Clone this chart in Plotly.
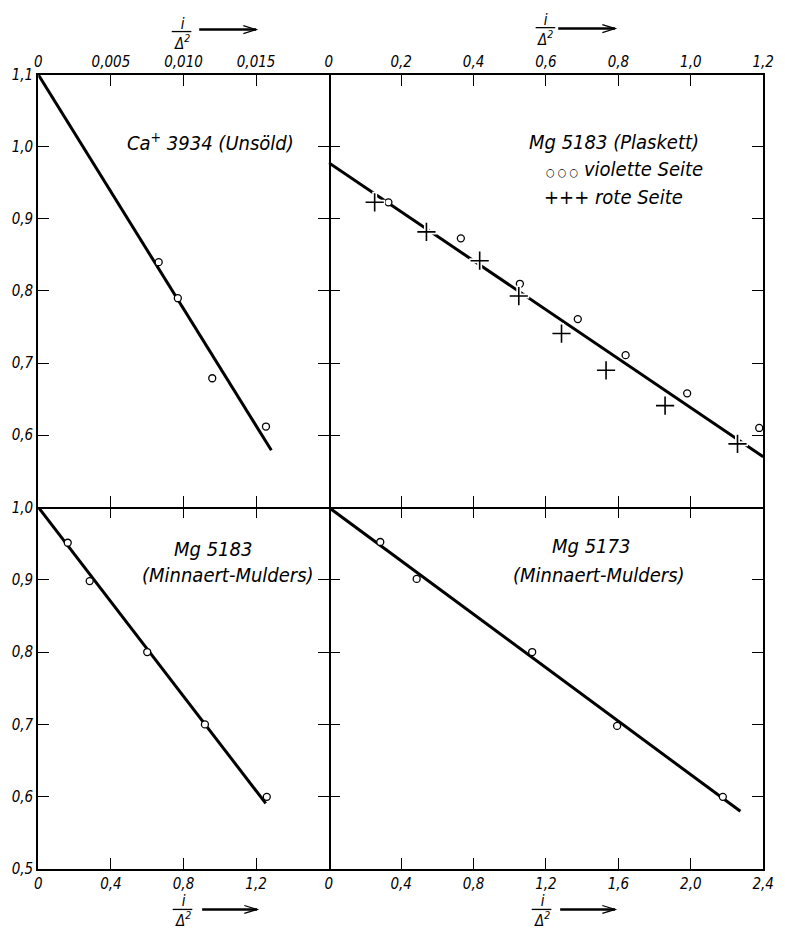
import plotly.graph_objects as go

# ---------------- data ----------------
# Panel A: Ca+ 3934 (Unsöld)
ca_x = [0.00829, 0.00961, 0.01198, 0.01568]
ca_y = [0.840, 0.790, 0.679, 0.612]
ca_fit_x = [0.0, 0.01605]
ca_fit_y = [1.100, 0.579]

# Panel B: Mg 5183 (Plaskett)
pl_violet_x = [0.165, 0.365, 0.528, 0.688, 0.820, 0.990, 1.189]
pl_violet_y = [0.923, 0.873, 0.810, 0.761, 0.711, 0.658, 0.610]
pl_red_x = [0.127, 0.270, 0.417, 0.525, 0.643, 0.766, 0.929, 1.129]
pl_red_y = [0.923, 0.882, 0.842, 0.793, 0.741, 0.690, 0.641, 0.588]
pl_fit_x = [0.0, 1.2]
pl_fit_y = [0.978, 0.570]

# Panel C: Mg 5183 (Minnaert-Mulders)
mm83_x = [0.162, 0.283, 0.600, 0.918, 1.259]
mm83_y = [0.951, 0.898, 0.800, 0.700, 0.600]
mm83_fit_x = [0.0, 1.253]
mm83_fit_y = [1.000, 0.591]

# Panel D: Mg 5173 (Minnaert-Mulders)
mm73_x = [0.285, 0.486, 1.124, 1.593, 2.177]
mm73_y = [0.952, 0.901, 0.800, 0.698, 0.600]
mm73_fit_x = [0.0, 2.274]
mm73_fit_y = [1.000, 0.580]

# ticks
a_xticks = [0, 0.005, 0.010, 0.015]
a_xlabels = ["0", "0,005", "0,010", "0,015"]
b_xticks = [0, 0.2, 0.4, 0.6, 0.8, 1.0, 1.2]
b_xlabels = ["0", "0,2", "0,4", "0,6", "0,8", "1,0", "1,2"]
top_yticks = [0.6, 0.7, 0.8, 0.9, 1.0, 1.1]
top_ylabels = ["0,6", "0,7", "0,8", "0,9", "1,0", "1,1"]
c_xticks = [0, 0.4, 0.8, 1.2]
c_xlabels = ["0", "0,4", "0,8", "1,2"]
d_xticks = [0, 0.4, 0.8, 1.2, 1.6, 2.0, 2.4]
d_xlabels = ["0", "0,4", "0,8", "1,2", "1,6", "2,0", "2,4"]
bot_yticks = [0.5, 0.6, 0.7, 0.8, 0.9, 1.0]
bot_ylabels = ["0,5", "0,6", "0,7", "0,8", "0,9", "1,0"]

# ---------------- layout geometry ----------------
W, H = 785, 940
def px(v):
    return v / W
def py(v):
    return 1 - v / H

X_L, X_M, X_R = 35, 331, 774
Y_T, Y_M, Y_B = 67, 508, 877

FONT = "DejaVu Sans Condensed, Liberation Sans Narrow, sans-serif"

fig = go.Figure()

LINE = dict(color="black", width=3)
CIRC = dict(symbol="circle", size=7, color="white", line=dict(color="black", width=1.3))
CROSS_HALO = dict(symbol="cross-thin", size=15, color="white", line=dict(color="white", width=5))
CROSS = dict(symbol="cross-thin", size=13, color="black", line=dict(color="black", width=1.6))

def add(x, y, xa, ya, mode, **kw):
    fig.add_trace(go.Scatter(x=x, y=y, xaxis=xa, yaxis=ya, mode=mode,
                             hoverinfo="skip", showlegend=False, cliponaxis=False, **kw))

add(ca_fit_x, ca_fit_y, "x", "y", "lines", line=LINE)
add(ca_x, ca_y, "x", "y", "markers", marker=CIRC)

add(pl_fit_x, pl_fit_y, "x2", "y2", "lines", line=LINE)
add(pl_violet_x, pl_violet_y, "x2", "y2", "markers", marker=CIRC)
add(pl_red_x, pl_red_y, "x2", "y2", "markers", marker=CROSS_HALO)
add(pl_red_x, pl_red_y, "x2", "y2", "markers", marker=CROSS)

add(mm83_fit_x, mm83_fit_y, "x3", "y3", "lines", line=LINE)
add(mm83_x, mm83_y, "x3", "y3", "markers", marker=CIRC)

add(mm73_fit_x, mm73_fit_y, "x4", "y4", "lines", line=LINE)
add(mm73_x, mm73_y, "x4", "y4", "markers", marker=CIRC)

# empty traces so that the tick-only overlay axes get drawn
for xa, ya in [("x2", "y5"), ("x5", "y3"), ("x6", "y4"), ("x4", "y6")]:
    fig.add_trace(go.Scatter(x=[None], y=[None], xaxis=xa, yaxis=ya, mode="markers",
                             hoverinfo="skip", showlegend=False))

tickfont = dict(family=FONT, size=15, color="black", style="italic")
base = dict(linecolor="black", linewidth=2.3, ticks="inside", ticklen=11, tickwidth=1.4,
            tickcolor="black", showgrid=False, zeroline=False, tickfont=tickfont,
            fixedrange=True)
framed = dict(showline=True, mirror="ticks", **base)     # line + ticks on both sides
single = dict(showline=True, mirror=False, **base)       # line + ticks on one side
tickonly = dict(showline=False, showticklabels=False, **base)

dL, dR = [px(X_L), px(X_M)], [px(X_M), px(X_R)]
dT, dB = [py(Y_M), py(Y_T)], [py(Y_B), py(Y_M)]

fig.update_layout(
    width=W, height=H, autosize=False,
    margin=dict(l=0, r=0, t=0, b=0),
    paper_bgcolor="white", plot_bgcolor="rgba(0,0,0,0)",
    font=dict(family=FONT, color="black", style="italic"),
    # top-left
    xaxis=dict(domain=dL, range=[0, 0.020], side="top", anchor="y",
               tickvals=a_xticks, ticktext=a_xlabels, **framed),
    yaxis=dict(domain=dT, range=[0.5, 1.1], anchor="x",
               tickvals=top_yticks, ticktext=top_ylabels, **framed),
    # top-right
    xaxis2=dict(domain=dR, range=[0, 1.2], side="top", anchor="y2",
                tickvals=b_xticks, ticktext=b_xlabels, **framed),
    yaxis2=dict(domain=dT, range=[0.5, 1.1], anchor="x2", side="right",
                tickvals=top_yticks, showticklabels=False, **single),
    yaxis5=dict(range=[0.5, 1.1], anchor="x2", side="left", overlaying="y2",
                tickvals=top_yticks, **tickonly),
    # bottom-left
    xaxis3=dict(domain=dL, range=[0, 1.6], anchor="y3", side="bottom",
                tickvals=c_xticks, ticktext=c_xlabels, **single),
    xaxis5=dict(range=[0, 1.6], anchor="y3", side="top", overlaying="x3",
                tickvals=c_xticks, **tickonly),
    yaxis3=dict(domain=dB, range=[0.5, 1.0], anchor="x3",
                tickvals=bot_yticks, ticktext=bot_ylabels, **framed),
    # bottom-right
    xaxis4=dict(domain=dR, range=[0, 2.4], anchor="y4", side="bottom",
                tickvals=d_xticks, ticktext=d_xlabels, **single),
    xaxis6=dict(range=[0, 2.4], anchor="y4", side="top", overlaying="x4",
                tickvals=d_xticks, **tickonly),
    yaxis4=dict(domain=dB, range=[0.5, 1.0], anchor="x4", side="right",
                tickvals=bot_yticks, showticklabels=False, **single),
    yaxis6=dict(range=[0.5, 1.0], anchor="x4", side="left", overlaying="y4",
                tickvals=bot_yticks, **tickonly),
)

TF = dict(family=FONT, size=20, color="black", style="italic")
ann = []
def text(t, x, y, xr, yr, xanchor="center", font=TF, yanchor="middle"):
    ann.append(dict(text=t, x=x, y=y, xref=xr, yref=yr, showarrow=False,
                    xanchor=xanchor, yanchor=yanchor, font=font, borderpad=0))

text("Ca<sup>+</sup> 3934 (Unsöld)", 0.01186, 1.006, "x", "y")
text("Mg 5183 (Plaskett)", 0.788, 1.007, "x2", "y2")
text('<span style="font-size:11px">○ ○ ○</span> violette Seite', 0.598, 0.969, "x2", "y2", xanchor="left")
text("+++ rote Seite", 0.592, 0.931, "x2", "y2", xanchor="left")
text("Mg 5183", 0.963, 0.943, "x3", "y3")
text("(Minnaert-Mulders)", 1.045, 0.9065, "x3", "y3")
text("Mg 5173", 1.449, 0.946, "x4", "y4")
text("(Minnaert-Mulders)", 1.492, 0.9065, "x4", "y4")

# axis titles: i / Δ²  -->
shapes = []
FF = dict(family=FONT, size=15, color="black", style="italic")
def frac_label(cx, y_bar, ax0, ax1, ay):
    text("i<br>Δ<sup>2</sup>", px(cx), py(y_bar + 2), "paper", "paper", font=FF)
    shapes.append(dict(type="line", xref="paper", yref="paper",
                       x0=px(cx - 10), x1=px(cx + 10), y0=py(y_bar), y1=py(y_bar),
                       line=dict(color="black", width=1.3)))
    shapes.append(dict(type="line", xref="paper", yref="paper",
                       x0=px(ax0), x1=px(ax1), y0=py(ay), y1=py(ay),
                       line=dict(color="black", width=2.5)))
    shapes.append(dict(type="path", xref="paper", yref="paper",
                       path=f"M {px(ax1-13)},{py(ay-4)} L {px(ax1)},{py(ay)} L {px(ax1-13)},{py(ay+4)}",
                       line=dict(color="black", width=1.3)))

frac_label(181, 23, 199, 257, 21)
frac_label(552, 19, 565, 623, 20)
frac_label(182, 918, 202, 258, 918)
frac_label(548, 918, 567, 623, 918)

fig.update_layout(annotations=ann, shapes=shapes)
fig.write_html("out.html", config={"displayModeBar": False},
               post_script="document.body.style.margin='0';")
